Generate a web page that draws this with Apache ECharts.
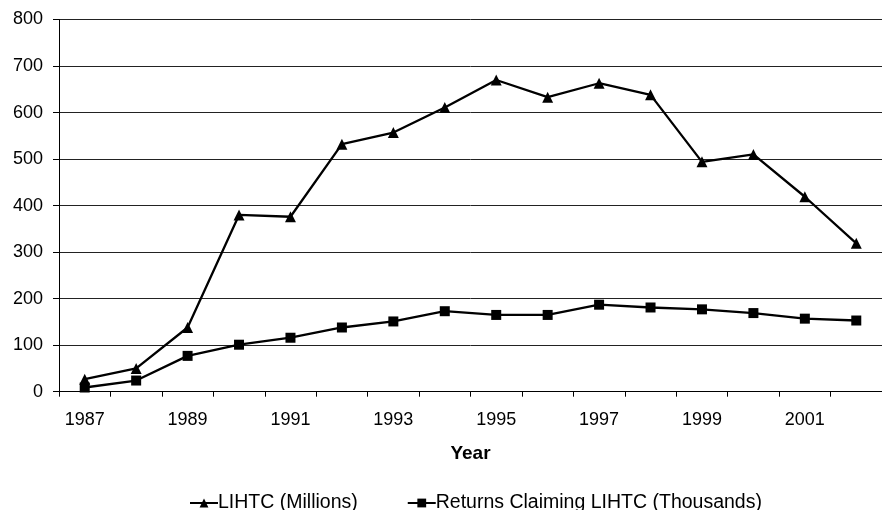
<!DOCTYPE html>
<html><head><meta charset="utf-8">
<script src="https://cdn.jsdelivr.net/npm/echarts@6/dist/echarts.min.js"></script>
<style>html,body{margin:0;padding:0;background:#fff}#c{width:882px;height:510px}</style>
</head><body><div id="c"></div>
<script>
const years = ['1987','1988','1989','1990','1991','1992','1993','1994','1995','1996','1997','1998','1999','2000','2001','2002'];
const lihtc = [27, 50, 138, 380, 376, 532, 557, 611, 670, 633, 663, 638, 494, 510, 419, 319];
const returnsClaiming = [9, 24, 77, 101, 116, 138, 151, 173, 165, 165, 187, 181, 177, 169, 157, 153];
const yTicks = [0, 100, 200, 300, 400, 500, 600, 700, 800];

const FONT = 'Liberation Sans, Arial, sans-serif';
const chart = echarts.init(document.getElementById('c'), null, {renderer: 'canvas'});
chart.setOption({
  animation: false,
  backgroundColor: '#fff',
  grid: {left: 59, top: 19.5, right: -5, bottom: 118.3, containLabel: false},
  legend: {
    left: 184, top: 488,
    itemWidth: 28, itemHeight: 11, itemGap: 49,
    textStyle: {fontFamily: FONT, fontSize: 19.5, color: '#000', padding: [0,0,0,-5]},
    data: ['LIHTC (Millions)', 'Returns Claiming LIHTC (Thousands)']
  },
  xAxis: {
    type: 'category', data: years, boundaryGap: true,
    name: 'Year', nameLocation: 'middle', nameGap: 53,
    nameTextStyle: {fontFamily: FONT, fontSize: 19, fontWeight: 'bold', color: '#000'},
    axisLine: {lineStyle: {color: '#000', width: 1}},
    axisTick: {show: true, inside: false, length: 5, interval: 0, lineStyle: {color: '#000'}},
    axisLabel: {interval: 1, margin: 19, fontFamily: FONT, fontSize: 18, color: '#000'},
    splitLine: {show: false}
  },
  yAxis: {
    type: 'value', min: yTicks[0], max: yTicks[yTicks.length-1], interval: 100,
    axisLine: {show: true, lineStyle: {color: '#000', width: 1}},
    axisTick: {show: true, length: 6, lineStyle: {color: '#000'}},
    axisLabel: {margin: 16, fontFamily: FONT, fontSize: 18, color: '#000'},
    splitLine: {show: true, lineStyle: {color: '#222', width: 1}}
  },
  series: [
    {
      name: 'LIHTC (Millions)', type: 'line', data: lihtc,
      symbol: 'triangle', symbolSize: 11,
      lineStyle: {color: '#000', width: 2.3}, itemStyle: {color: '#000'}
    },
    {
      name: 'Returns Claiming LIHTC (Thousands)', type: 'line', data: returnsClaiming,
      symbol: 'rect', symbolSize: 10,
      lineStyle: {color: '#000', width: 2.3}, itemStyle: {color: '#000'}
    }
  ]
});
</script></body></html>
